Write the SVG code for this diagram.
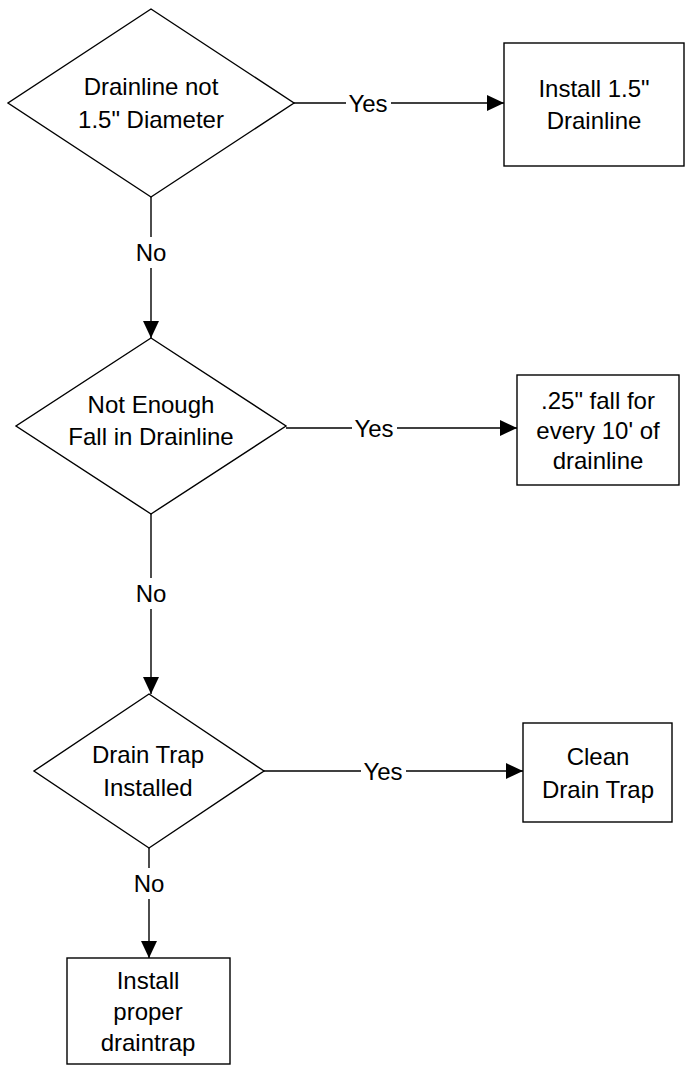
<svg xmlns="http://www.w3.org/2000/svg" width="686" height="1067" viewBox="0 0 686 1067">
<style>
.shape{fill:#fff;stroke:#000;stroke-width:1.4}
.ln{stroke:#000;stroke-width:1.4;fill:none}
.t{font-family:"Liberation Sans",Arial,sans-serif;font-size:24px;fill:#000;text-anchor:middle;dominant-baseline:central}
</style>
<defs>
<marker id="ah" markerWidth="17" markerHeight="16" refX="17" refY="8" orient="auto" markerUnits="userSpaceOnUse">
<path d="M0,0 L17,8 L0,16 Z" fill="#000"/>
</marker>
</defs>
<rect width="686" height="1067" fill="#fff"/>
<g id="connectors">
<line class="ln" x1="294" y1="103" x2="346" y2="103"/>
<line class="ln" x1="391" y1="103" x2="504" y2="103" marker-end="url(#ah)"/>
<text class="t" x="368" y="103">Yes</text>
<line class="ln" x1="151" y1="197" x2="151" y2="237"/>
<line class="ln" x1="151" y1="268" x2="151" y2="338" marker-end="url(#ah)"/>
<text class="t" x="151" y="252">No</text>
<line class="ln" x1="286" y1="428" x2="352" y2="428"/>
<line class="ln" x1="397" y1="428" x2="517" y2="428" marker-end="url(#ah)"/>
<text class="t" x="374" y="428">Yes</text>
<line class="ln" x1="151" y1="514" x2="151" y2="578"/>
<line class="ln" x1="151" y1="609" x2="151" y2="694" marker-end="url(#ah)"/>
<text class="t" x="151" y="593">No</text>
<line class="ln" x1="264" y1="771" x2="361" y2="771"/>
<line class="ln" x1="406" y1="771" x2="523" y2="771" marker-end="url(#ah)"/>
<text class="t" x="383" y="771">Yes</text>
<line class="ln" x1="149" y1="848" x2="149" y2="868"/>
<line class="ln" x1="149" y1="899" x2="149" y2="958" marker-end="url(#ah)"/>
<text class="t" x="149" y="883">No</text>
</g>
<g id="d1">
<polygon class="shape" points="151,9 294,103 151,197 8,103"/>
<text class="t" x="151" y="86">Drainline not</text>
<text class="t" x="151" y="119">1.5" Diameter</text>
</g>
<g id="b1">
<rect class="shape" x="504" y="43" width="180" height="123"/>
<text class="t" x="594" y="88">Install 1.5"</text>
<text class="t" x="594" y="120">Drainline</text>
</g>
<g id="d2">
<polygon class="shape" points="151,338 286,426 151,514 16,426"/>
<text class="t" x="151" y="404">Not Enough</text>
<text class="t" x="151" y="436">Fall in Drainline</text>
</g>
<g id="b2">
<rect class="shape" x="517" y="375" width="162" height="110"/>
<text class="t" x="598" y="400">.25" fall for</text>
<text class="t" x="598" y="430">every 10' of</text>
<text class="t" x="598" y="460">drainline</text>
</g>
<g id="d3">
<polygon class="shape" points="149,694 264,771 149,848 34,771"/>
<text class="t" x="148" y="754">Drain Trap</text>
<text class="t" x="148" y="787">Installed</text>
</g>
<g id="b3">
<rect class="shape" x="523" y="723" width="149" height="99"/>
<text class="t" x="598" y="756">Clean</text>
<text class="t" x="598" y="789">Drain Trap</text>
</g>
<g id="b4">
<rect class="shape" x="67" y="958" width="163" height="106"/>
<text class="t" x="148" y="980">Install</text>
<text class="t" x="148" y="1011">proper</text>
<text class="t" x="148" y="1042">draintrap</text>
</g>
</svg>
